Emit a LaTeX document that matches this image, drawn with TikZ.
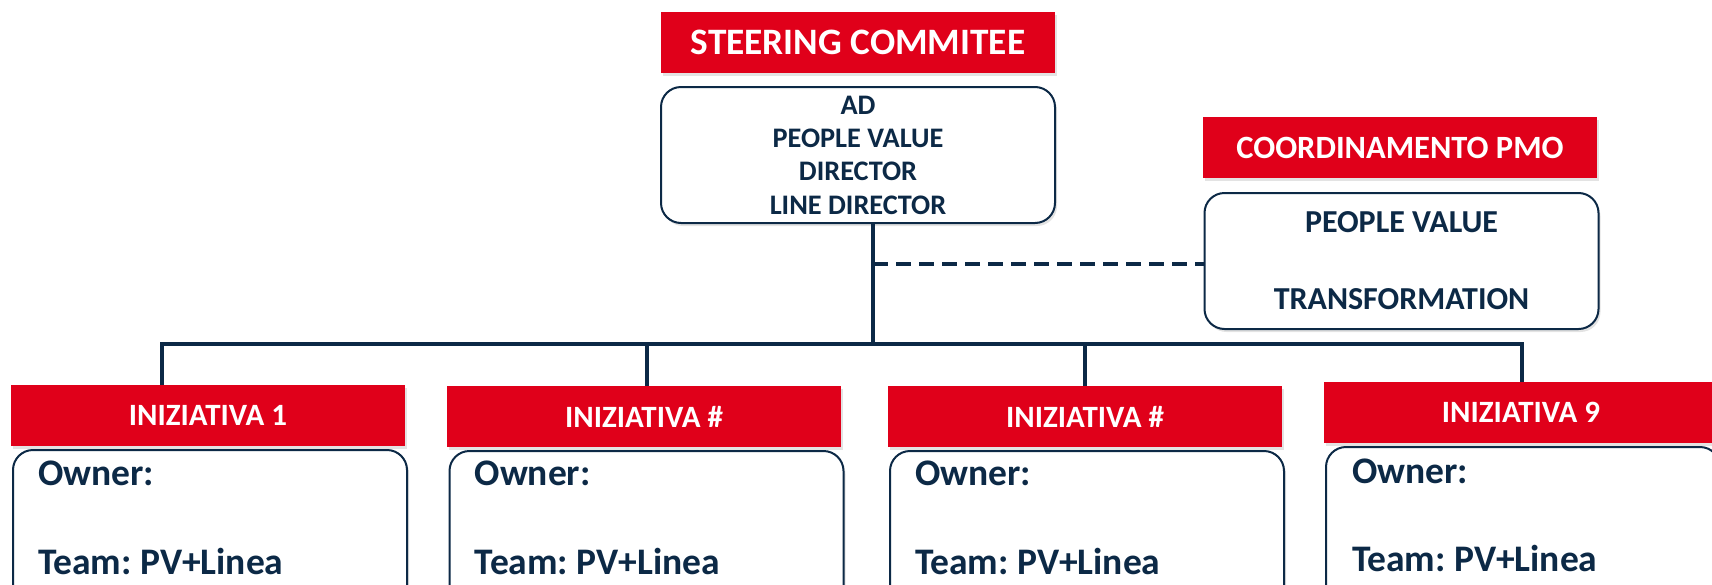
\documentclass[tikz,border=0pt]{standalone}
\usepackage{fontspec}
\setmainfont{Carlito}
\usetikzlibrary{positioning,shadows}
\definecolor{pvred}{RGB}{224,0,26}
\definecolor{pvnavy}{RGB}{12,41,70}
\frenchspacing

\begin{document}
\begin{tikzpicture}[x=1pt,y=-1pt,
  softshadow/.style={drop shadow={opacity=0.22,shadow xshift=2pt,shadow yshift=-3pt}},
  redbar/.style={fill=pvred,text=white,minimum width=394pt,minimum height=61pt,inner sep=0pt,softshadow,
    font=\bfseries\fontsize{31}{36}\selectfont},
  whitebox/.style={draw=pvnavy,line width=2pt,fill=white,rounded corners=20pt,minimum width=394pt,inner sep=0pt,
    text=pvnavy,softshadow},
  initbox/.style={whitebox,minimum height=160pt},
  boxtext/.style={text=pvnavy,anchor=base west,inner sep=0pt,font=\bfseries\fontsize{37.5}{40}\selectfont},
  conn/.style={draw=pvnavy,line width=4pt},
  dline/.style={conn,dash pattern=on 15pt off 8pt}]
\useasboundingbox (0,0) rectangle (1712,584);
\clip (0,0) rectangle (1712,584);

\node[redbar,font=\bfseries\fontsize{37.3}{40}\selectfont] (steer) at (858,42.5) {STEERING COMMITEE};
\node[whitebox,minimum height=136pt,align=center,font=\bfseries\fontsize{28.3}{33.3}\selectfont] (main) at (858,155)
  {AD\\PEOPLE VALUE\\DIRECTOR\\LINE DIRECTOR};

\node[redbar,font=\bfseries\fontsize{32.5}{36}\selectfont] (pmohead) at (1400,147.5) {COORDINAMENTO PMO};
\node[whitebox,minimum height=136pt,align=center,font=\bfseries\fontsize{32}{38.5}\selectfont] (pmo) at (1401.5,261)
  {PEOPLE VALUE\\[38.5pt]TRANSFORMATION};

\node[redbar] (i1) at (208,415.5) {INIZIATIVA 1};
\node[redbar] (i2) at (644,416.5) {INIZIATIVA \#};
\node[redbar] (i3) at (1085,416.5) {INIZIATIVA \#};
\node[redbar] (i4) at (1521,412.5) {INIZIATIVA 9};

\node[initbox] (b1) at (210,530) {};
\node[initbox] (b2) at (646.5,531) {};
\node[initbox] (b3) at (1087,531) {};
\node[initbox] (b4) at (1523,527) {};

\node[boxtext] (own1) at ([xshift=26pt,yshift=-36pt]b1.north west) {Owner:};
\node[boxtext] (team1) at ([xshift=26pt,yshift=-125pt]b1.north west) {Team: PV+Linea};
\node[boxtext] (own2) at ([xshift=26pt,yshift=-35pt]b2.north west) {Owner:};
\node[boxtext] (team2) at ([xshift=26pt,yshift=-124pt]b2.north west) {Team: PV+Linea};
\node[boxtext] (own3) at ([xshift=26pt,yshift=-35pt]b3.north west) {Owner:};
\node[boxtext] (team3) at ([xshift=26pt,yshift=-124pt]b3.north west) {Team: PV+Linea};
\node[boxtext] (own4) at ([xshift=27pt,yshift=-37pt]b4.north west) {Owner:};
\node[boxtext] (team4) at ([xshift=27pt,yshift=-125pt]b4.north west) {Team: PV+Linea};

\coordinate (hub) at (873,344);
\coordinate (j1) at (162,344);
\coordinate (j2) at (647,344);
\coordinate (j3) at (1085,344);
\coordinate (j4) at (1522,344);
\coordinate (dash) at (873,264);

\draw[conn] (main.south -| hub) -- (hub);
\draw[conn] (i1.north -| j1) -- (j1) -- (j4) -- (i4.north -| j4);
\draw[conn] (j2) -- (i2.north -| j2);
\draw[conn] (j3) -- (i3.north -| j3);
\draw[dline] (dash) -- (dash -| pmo.west);
\end{tikzpicture}
\end{document}
